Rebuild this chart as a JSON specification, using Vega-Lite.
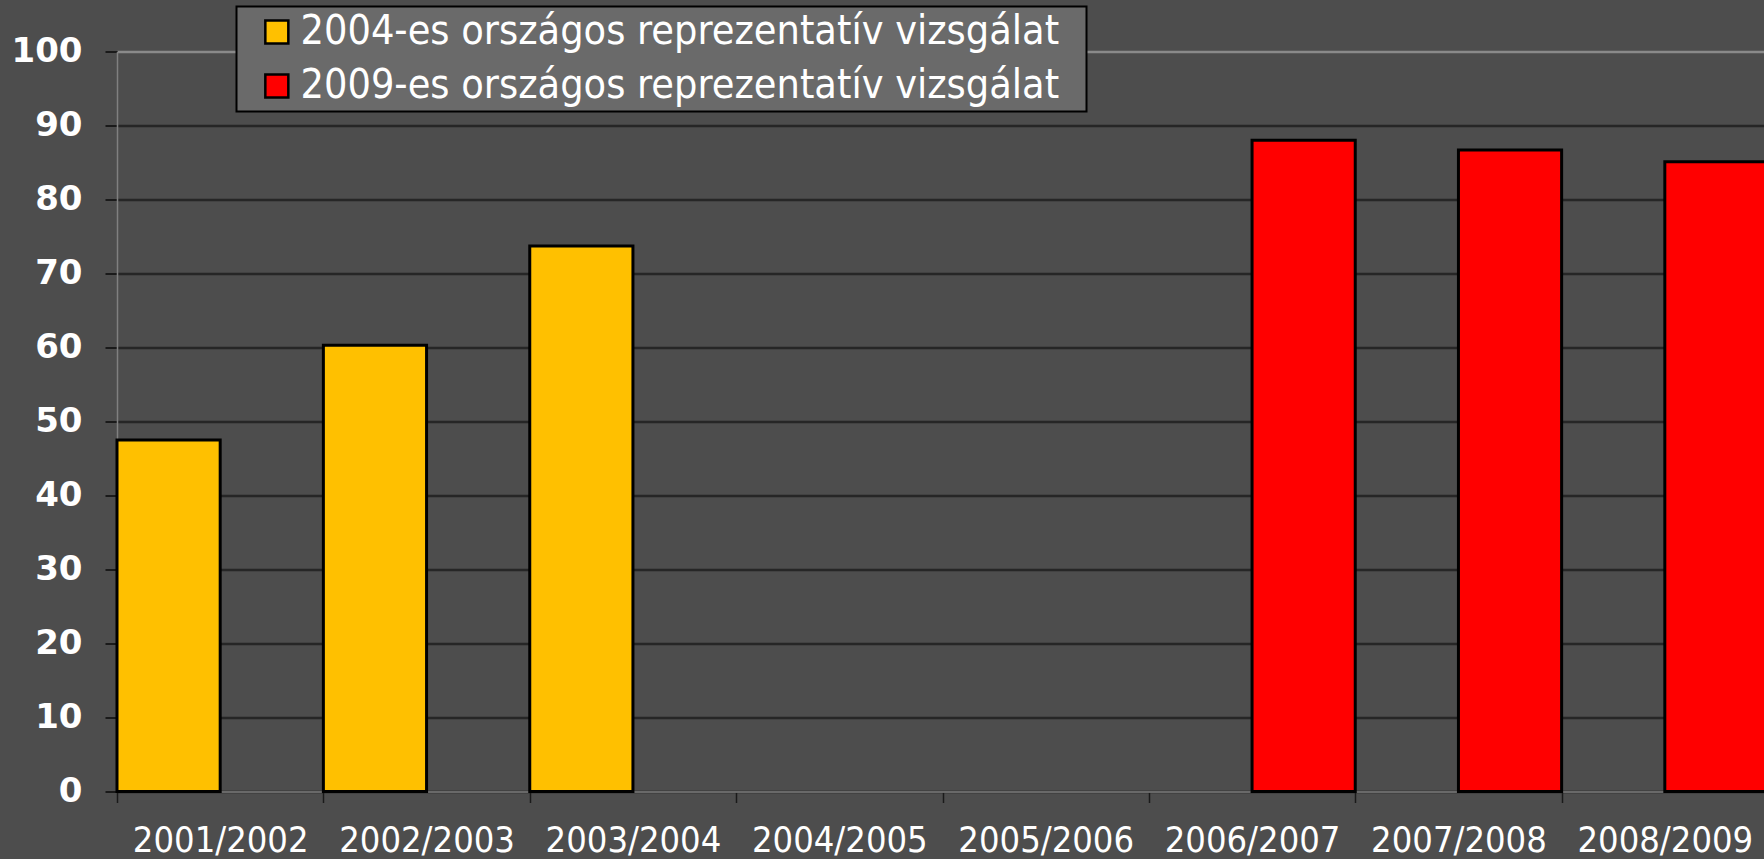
{
  "$schema": "https://vega.github.io/schema/vega-lite/v6.json",
  "width": 1647,
  "height": 740,
  "autosize": {"type": "none"},
  "padding": {"left": 117, "top": 51.5, "right": 0, "bottom": 67.5},
  "background": "#4d4d4d",
  "config": {
    "view": {"stroke": null, "fill": "#4d4d4d"}
  },
  "data": {
    "values": [
      {"ev": "2001/2002", "vizsgalat": "2004-es országos reprezentatív vizsgálat", "ertek": 47.5},
      {"ev": "2002/2003", "vizsgalat": "2004-es országos reprezentatív vizsgálat", "ertek": 60.3},
      {"ev": "2003/2004", "vizsgalat": "2004-es országos reprezentatív vizsgálat", "ertek": 73.7},
      {"ev": "2006/2007", "vizsgalat": "2009-es országos reprezentatív vizsgálat", "ertek": 88.0},
      {"ev": "2007/2008", "vizsgalat": "2009-es országos reprezentatív vizsgálat", "ertek": 86.7},
      {"ev": "2008/2009", "vizsgalat": "2009-es országos reprezentatív vizsgálat", "ertek": 85.1}
    ]
  },
  "mark": {"type": "bar", "stroke": "#000000", "strokeWidth": 3},
  "encoding": {
    "x": {
      "field": "ev",
      "type": "nominal",
      "scale": {
        "domain": ["2001/2002", "2002/2003", "2003/2004", "2004/2005", "2005/2006", "2006/2007", "2007/2008", "2008/2009"],
        "range": [0, 1651],
        "paddingInner": 0,
        "paddingOuter": 0
      },
      "axis": {
        "title": null,
        "labelAngle": 0,
        "labelFont": "DejaVu Sans Condensed",
        "labelFontSize": 36,
        "labelColor": "#ffffff",
        "labelPadding": 21,
        "tickBand": "extent",
        "tickSize": 11,
        "tickColor": "#1a1a1a",
        "tickWidth": 1.5,
        "domainColor": "#808080",
        "domainWidth": 1.5,
        "grid": false
      }
    },
    "xOffset": {
      "field": "vizsgalat",
      "type": "nominal",
      "scale": {
        "domain": ["2004-es országos reprezentatív vizsgálat", "2009-es országos reprezentatív vizsgálat"],
        "paddingInner": 0,
        "paddingOuter": 0
      }
    },
    "y": {
      "field": "ertek",
      "type": "quantitative",
      "scale": {"domain": [0, 100], "nice": false},
      "axis": {
        "title": null,
        "values": [0, 10, 20, 30, 40, 50, 60, 70, 80, 90, 100],
        "labelFont": "DejaVu Sans",
        "labelFontWeight": "bold",
        "labelFontSize": 34,
        "labelColor": "#ffffff",
        "labelPadding": 23,
        "tickSize": 12,
        "tickColor": "#1a1a1a",
        "tickWidth": 2,
        "domainColor": "#808080",
        "domainWidth": 1.5,
        "grid": true,
        "gridColor": {"condition": {"test": "datum.value === 100", "value": "#8a8a8a"}, "value": "#262626"},
        "gridWidth": 2.5
      }
    },
    "color": {
      "field": "vizsgalat",
      "type": "nominal",
      "scale": {
        "domain": ["2004-es országos reprezentatív vizsgálat", "2009-es országos reprezentatív vizsgálat"],
        "range": ["#ffc000", "#ff0000"]
      },
      "legend": {
        "title": null,
        "orient": "none",
        "legendX": 119.5,
        "legendY": -45,
        "fillColor": "#6a6a6a",
        "strokeColor": "#000000",
        "padding": 5,
        "rowPadding": 12,
        "symbolType": "M0.29,-1H2.29V1H0.29Z M70.8,0L70.8,0",
        "symbolSize": 529,
        "symbolStrokeColor": "#000000",
        "symbolStrokeWidth": 2.5,
        "symbolOpacity": 1,
        "labelFont": "DejaVu Sans Condensed",
        "labelFontSize": 41,
        "labelColor": "#ffffff",
        "labelOffset": 18,
        "labelLimit": 2000,
        "encode": {"legend": {"update": {"strokeWidth": {"value": 2}}}}
      }
    }
  }
}
